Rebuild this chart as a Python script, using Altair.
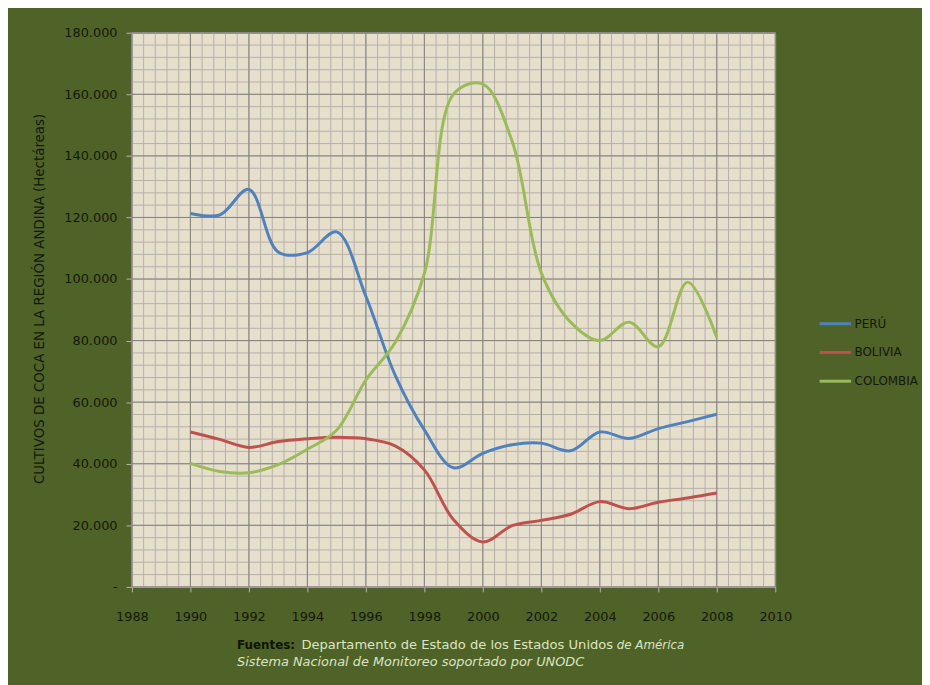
import altair as alt
import pandas as pd

# ---- data ----
years = list(range(1990, 2009))
peru = [121300, 120800, 129100, 108800, 108600, 115300, 94400, 68800, 51000, 38700,
        43400, 46200, 46700, 44200, 50300, 48200, 51400, 53700, 56100]
bolivia = [50300, 47900, 45300, 47200, 48100, 48600, 48100, 45800, 38000, 21800,
           14600, 19900, 21600, 23600, 27700, 25400, 27500, 28900, 30500]
colombia = [40100, 37500, 37100, 39700, 44700, 50900, 67200, 79400, 101800, 160100,
            163300, 144800, 102000, 86000, 80000, 86000, 78000, 99000, 81000]
countries = ["PERÚ", "BOLIVIA", "COLOMBIA"]
colors = ["#4F81BD", "#C0504D", "#9BBB59"]

x_ticks = list(range(1988, 2011, 2))
y_ticks = list(range(0, 180001, 20000))
x_minor = [1988 + 0.4 * k for k in range(56)]
y_minor = list(range(0, 180001, 4000))

y_title = "CULTIVOS DE COCA EN LA REGIÓN ANDINA (Hectáreas)"
src_bold = "Fuentes:"
src_1 = "Departamento de Estado de los Estados Unidos"
src_1b = "de América"
src_2 = "Sistema Nacional de Monitoreo soportado por UNODC"

rows = []
for c, vals in zip(countries, [peru, bolivia, colombia]):
    for yr, v in zip(years, vals):
        rows.append({"Año": yr, "País": c, "Hectáreas": v})
df = pd.DataFrame(rows)

W, H = 649, 559
BG = "#4F6228"
LABEL = "#14190c"
MINOR = "#B7AFAC"
MAJOR = "#85827C"
LIGHT = "#DCE5C2"

xscale = alt.Scale(domain=[1988, 2010], nice=False, zero=False)
yscale = alt.Scale(domain=[0, 180000], nice=False)

x_axis = alt.Axis(values=x_ticks, format="d", grid=False, title=None,
                  domainColor="#A9A9A9", tickColor="#B5B5B5", tickSize=5,
                  labelPadding=19, labelFont="DejaVu Sans", labelFontSize=13,
                  labelColor=LABEL, labelFlush=False)
y_axis = alt.Axis(values=y_ticks, grid=False, title=y_title,
                  labelExpr="datum.value == 0 ? '-\u00a0\u00a0\u00a0' : format(datum.value / 1000, 'd') + '.000'",
                  domainColor="#A9A9A9", tickColor="#B5B5B5", tickSize=6,
                  labelPadding=9, labelFont="DejaVu Sans", labelFontSize=13,
                  labelColor=LABEL, titleFont="DejaVu Sans", titleFontSize=13.5,
                  titleFontWeight="normal", titleColor=LABEL, titleX=-86, titleY=268,
                  labelFlush=False)

X = alt.X("Año:Q", scale=xscale, axis=x_axis)
Y = alt.Y("Hectáreas:Q", scale=yscale, axis=y_axis)

vminor = alt.Chart(pd.DataFrame({"Año": x_minor})).mark_rule(color=MINOR, strokeWidth=1).encode(x=X)
hminor = alt.Chart(pd.DataFrame({"Hectáreas": y_minor})).mark_rule(color=MINOR, strokeWidth=1).encode(y=Y)
vmajor = alt.Chart(pd.DataFrame({"Año": x_ticks})).mark_rule(color=MAJOR, strokeWidth=1).encode(x=X)
hmajor = alt.Chart(pd.DataFrame({"Hectáreas": y_ticks})).mark_rule(color=MAJOR, strokeWidth=1).encode(y=Y)

lines = alt.Chart(df).mark_line(interpolate="catmull-rom", strokeWidth=3).encode(
    x=X, y=Y,
    color=alt.Color("País:N", sort=countries,
                    scale=alt.Scale(domain=countries, range=colors),
                    legend=alt.Legend(orient="none", legendX=692, legendY=276, title=None,
                                      symbolType="stroke", symbolSize=1000,
                                      symbolStrokeWidth=3, labelFont="DejaVu Sans",
                                      labelFontSize=12, labelColor=LABEL, padding=0,
                                      rowPadding=5, labelOffset=2)),
)

one = alt.Data(values=[{}])
t_bold = alt.Chart(one).mark_text(text=src_bold, font="DejaVu Sans", fontSize=12,
                                  fontWeight="bold", color="#0c1404", align="left",
                                  baseline="middle").encode(x=alt.value(106), y=alt.value(618))
t_1 = alt.Chart(one).mark_text(text=src_1, font="DejaVu Sans", fontSize=13.2,
                               color=LIGHT, align="left",
                               baseline="middle").encode(x=alt.value(171), y=alt.value(618))
t_1b = alt.Chart(one).mark_text(text=src_1b, font="DejaVu Sans", fontSize=12,
                                fontStyle="italic", color=LIGHT, align="left",
                                baseline="middle").encode(x=alt.value(489), y=alt.value(618))
t_2 = alt.Chart(one).mark_text(text=src_2, font="DejaVu Sans", fontSize=13,
                               fontStyle="italic", color=LIGHT, align="left",
                               baseline="middle").encode(x=alt.value(106), y=alt.value(635))

chart = alt.layer(vminor, hminor, vmajor, hmajor, lines, t_bold, t_1, t_1b, t_2).properties(
    width=W, height=H,
    autosize=alt.AutoSizeParams(type="none"),
    padding={"left": 125, "top": 22, "right": 148, "bottom": 96},
    background=BG,
).configure_view(fill="#E5DFCB", stroke=MAJOR)

chart.save("out.html", embed_options={"renderer": "svg", "actions": False})
